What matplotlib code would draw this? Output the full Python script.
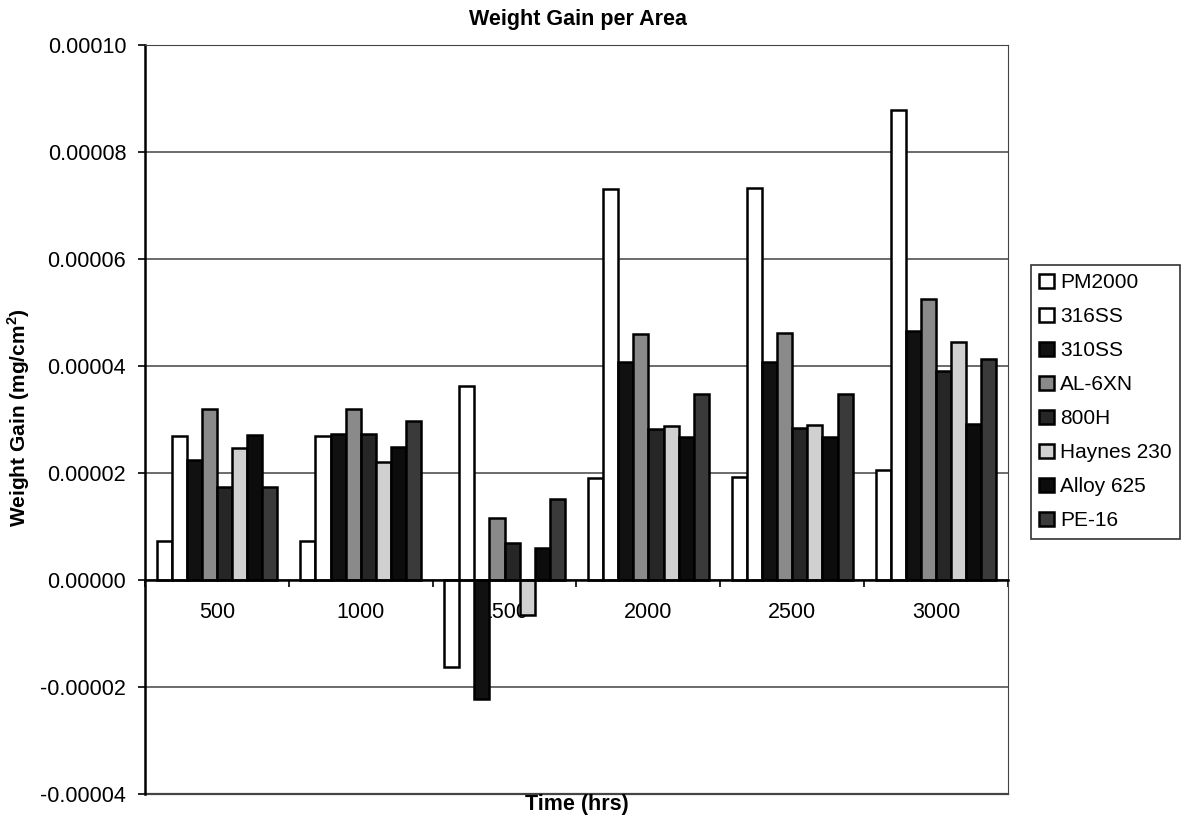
import numpy as np
import matplotlib
matplotlib.use("Agg")
import matplotlib.pyplot as plt
from matplotlib.ticker import FuncFormatter

plt.rcParams['font.family'] = ['Liberation Sans', 'DejaVu Sans']
plt.rcParams['mathtext.fontset'] = 'custom'
plt.rcParams['mathtext.rm'] = 'Liberation Sans'
plt.rcParams['mathtext.bf'] = 'Liberation Sans:bold'

# data (mg/cm^2)
times = ['500', '1000', '1500', '2000', '2500', '3000']
alloys = ['PM2000', '316SS', '310SS', 'AL-6XN', '800H', 'Haynes 230', 'Alloy 625', 'PE-16']
pm2000 = [0.72e-5, 0.72e-5, -1.63e-5, 1.90e-5, 1.92e-5, 2.06e-5]
ss316 = [2.69e-5, 2.69e-5, 3.63e-5, 7.30e-5, 7.32e-5, 8.78e-5]
ss310 = [2.24e-5, 2.73e-5, -2.22e-5, 4.07e-5, 4.08e-5, 4.65e-5]
al6xn = [3.19e-5, 3.19e-5, 1.15e-5, 4.60e-5, 4.62e-5, 5.26e-5]
h800 = [1.74e-5, 2.73e-5, 0.69e-5, 2.83e-5, 2.84e-5, 3.91e-5]
haynes230 = [2.46e-5, 2.21e-5, -0.65e-5, 2.88e-5, 2.90e-5, 4.44e-5]
alloy625 = [2.71e-5, 2.48e-5, 0.59e-5, 2.67e-5, 2.68e-5, 2.91e-5]
pe16 = [1.74e-5, 2.97e-5, 1.51e-5, 3.47e-5, 3.48e-5, 4.13e-5]
series = [pm2000, ss316, ss310, al6xn, h800, haynes230, alloy625, pe16]
colors = ['white', 'white', '#111111', '#8a8a8a', '#262626', '#d0d0d0', '#0c0c0c', '#3a3a3a']

W, H = 1183, 822
fig = plt.figure(figsize=(W / 100, H / 100), dpi=100)
ax = fig.add_axes([145 / W, 1 - 794 / H, (1008 - 145) / W, (794 - 45) / H])

x = np.arange(len(times))
w = 0.105
for i, vals in enumerate(series):
    ax.bar(x + (i - 3.5) * w, vals, w, color=colors[i], edgecolor='black',
           linewidth=1.8, label=alloys[i], zorder=3)

ax.set_xlim(-0.5, 5.5)
ax.set_ylim(-0.00004, 0.00010)
ax.set_yticks(np.arange(-0.00004, 0.000101, 0.00002))
ax.yaxis.set_major_formatter(FuncFormatter(lambda v, p: '%.5f' % v))
ax.grid(axis='y', color='#444444', linewidth=1.1, zorder=0)
ax.tick_params(axis='y', labelsize=15.5, length=5, width=1.2, pad=8.5, direction='out')

# category axis sits on the zero line
ax.spines['bottom'].set_position(('data', 0))
ax.spines['bottom'].set_linewidth(1.8)
ax.spines['bottom'].set_zorder(4)
ax.set_xticks(np.arange(-0.5, 6.0, 1.0))
ax.set_xticklabels([])
ax.tick_params(axis='x', length=5, width=1.2, direction='out')
for xi, t in zip(x, times):
    ax.text(xi, -0.0000060, t, ha='center', va='center', fontsize=15.5, zorder=1)

ax.spines['left'].set_linewidth(1.8)
ax.spines['top'].set_color('#444444')
ax.spines['right'].set_color('#444444')
ax.axhline(-0.00004, color='#444444', linewidth=1.6, clip_on=False)

fig.text(578 / W, 1 - 20 / H, 'Weight Gain per Area', ha='center', va='center',
         fontsize=15.5, fontweight='bold')
fig.text(577 / W, 1 - 804 / H, 'Time (hrs)', ha='center', va='center',
         fontsize=15.5, fontweight='bold')
fig.text(19 / W, 1 - 418 / H, 'Weight Gain (mg/cm$^{\\mathbf{2}}$)', ha='center',
         va='center', rotation=90, fontsize=15, fontweight='bold')

leg = fig.legend(loc='upper left', bbox_to_anchor=(1031 / W, 1 - 265 / H),
                 fontsize=15, frameon=True, fancybox=False, edgecolor='black',
                 handlelength=0.7, handleheight=0.7, handletextpad=0.3,
                 labelspacing=0.72, borderpad=0.4, borderaxespad=0)
leg.get_frame().set_linewidth(1.2)

fig.savefig('out.png', dpi=100)
